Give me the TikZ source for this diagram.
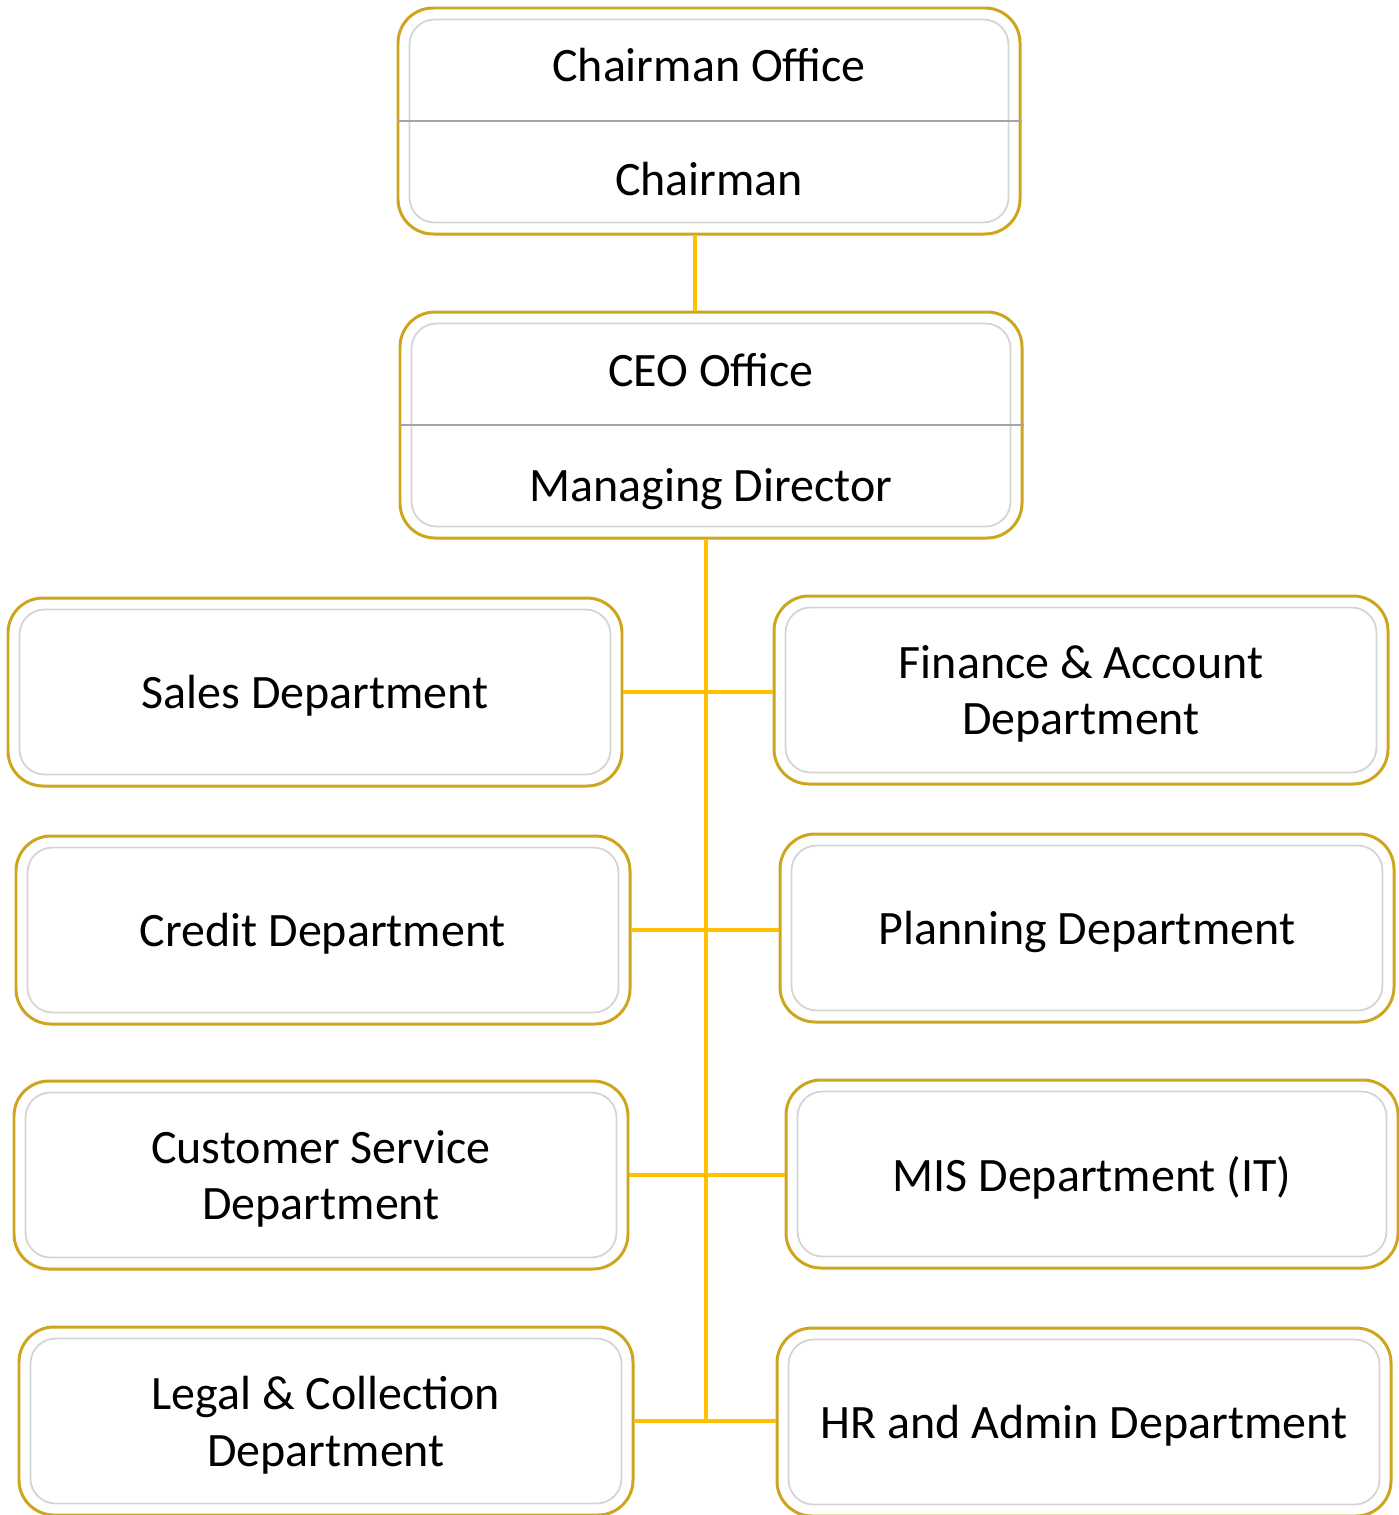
\documentclass[tikz,border=0pt]{standalone}
\usepackage{fontspec}
\setmainfont{Carlito}
\definecolor{boxgold}{RGB}{205,165,30}
\definecolor{linkgold}{RGB}{255,192,0}
\definecolor{framegray}{RGB}{212,212,212}
\definecolor{splitgray}{RGB}{165,165,165}
\begin{document}
\begin{tikzpicture}[
   every node/.style={font=\fontsize{27.3}{32.4}\selectfont, align=center},
   box/.style={draw=boxgold, line width=1.7pt, rounded corners=0.7cm,
               minimum width=12.28cm, minimum height=3.76cm, text depth=0pt},
   headbox/.style={box, minimum width=12.44cm, minimum height=4.52cm},
   role/.style={text height=0.7em, text depth=0.25em},
   frame/.style={draw=framegray, line width=1pt, rounded corners=0.5cm},
   split/.style={draw=splitgray, line width=1.6pt},
   link/.style={draw=linkgold, line width=2.8pt}]

\useasboundingbox (0,0) rectangle (27.96,-30.30);

% top of the chart
\node[headbox] (chair) at (14.18,-2.42) {};
\node[headbox] (ceo) at (14.22,-8.50) {};
\node[role] (chairoffice) at ([yshift=0.87cm]chair.center) {Chairman Office};
\node[role] (chairman) at ([yshift=-1.42cm]chair.center) {Chairman};
\node[role] (ceooffice) at ([yshift=0.84cm]ceo.center) {CEO Office};
\node[role] (md) at ([yshift=-1.46cm]ceo.center) {Managing Director};

% departments, left column
\node[box] (sales) at (6.30,-13.84) {Sales Department};
\node[box] (credit) at (6.46,-18.60) {Credit Department};
\node[box] (customer) at (6.42,-23.50) {Customer Service\\Department};
\node[box] (legal) at (6.52,-28.42) {Legal \& Collection\\Department};

% departments, right column
\node[box] (finance) at (21.62,-13.80) {Finance \& Account\\Department};
\node[box] (planning) at (21.74,-18.56) {Planning Department};
\node[box, minimum width=12.24cm] (mis) at (21.84,-23.48) {MIS Department (IT)};
\node[box] (hr) at (21.68,-28.44) {HR and Admin Department};

% inner frames
\foreach \n in {chair,ceo,sales,credit,customer,legal,finance,planning,mis,hr}
   \draw[frame] ([shift={(0.26,0.26)}]\n.south west) rectangle ([shift={(-0.26,-0.26)}]\n.north east);

\draw[split] (chair.west) -- (chair.east);
\draw[split] (ceo.west) -- (ceo.east);

% connectors
\coordinate (trunk) at ([xshift=-0.10cm]ceo.south);
\draw[link] ([xshift=-0.28cm]chair.south) -- ([xshift=-0.32cm]ceo.north);
\draw[link] (trunk) -- (trunk |- legal.east);
\draw[link] (sales.east) -- (sales.east -| finance.west);
\draw[link] (credit.east) -- (credit.east -| planning.west);
\draw[link] (customer.east) -- (customer.east -| mis.west);
\draw[link] (legal.east) -- (legal.east -| hr.west);

\end{tikzpicture}
\end{document}
